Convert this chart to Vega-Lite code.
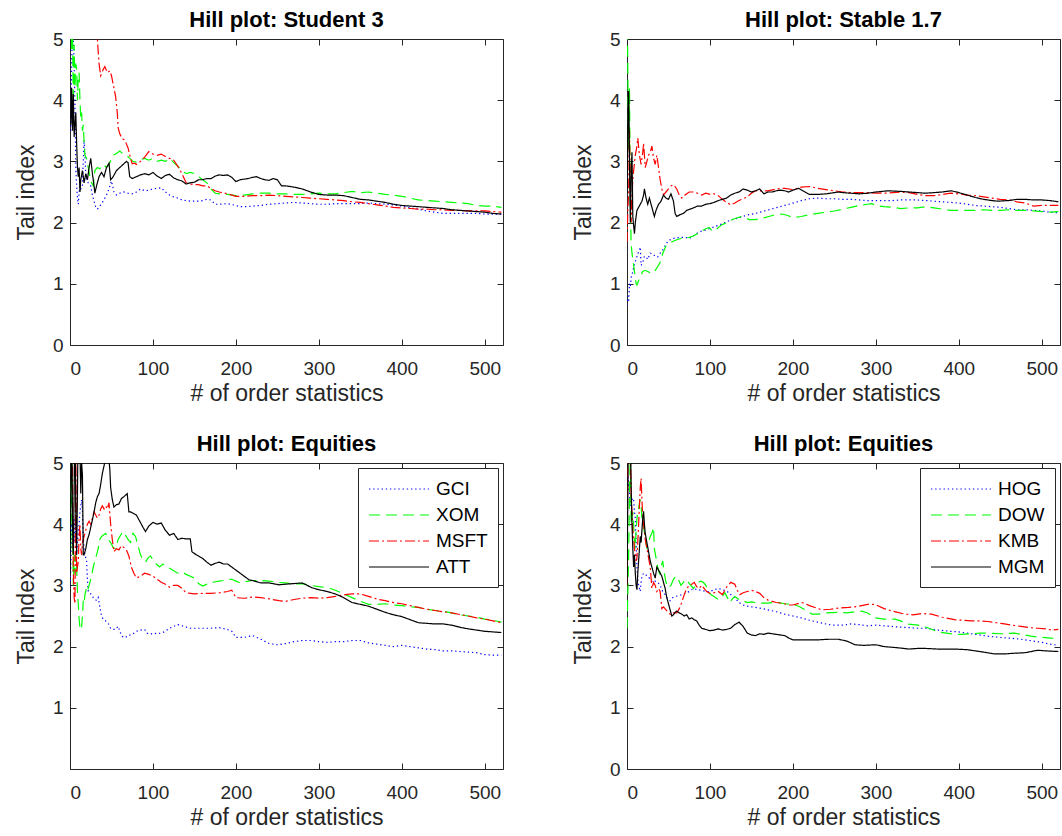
{
"$schema": "https://vega.github.io/schema/vega-lite/v6.json",
"background": "white",
"padding": {"left": 15, "top": 9, "right": 0, "bottom": 0},
"config": {
  "font": "Liberation Sans",
  "view": {"stroke": null},
  "axis": {"domainColor": "#262626", "tickColor": "#262626", "labelColor": "#262626", "titleColor": "#262626", "labelFontSize": 19, "titleFontSize": 23, "titleFontWeight": "normal", "grid": false, "tickSize": -6, "domainWidth": 1, "tickWidth": 1},
  "title": {"fontSize": 22, "fontWeight": "bold", "color": "black", "anchor": "middle", "frame": "group", "offset": -2},
  "legend": {"strokeColor": "#262626", "fillColor": "white", "padding": 10, "labelFontSize": 19, "labelColor": "black", "rowPadding": 5, "symbolStrokeWidth": 1.2, "symbolType": "M-1,0L5,0", "symbolSize": 400, "labelOffset": 46, "orient": "top-right", "offset": 5, "title": null}
},
"datasets": {
"p1": [
{"k":1,"v":3.5,"s":"a"},{"k":2,"v":4.6,"s":"a"},{"k":3,"v":5.3,"s":"a"},{"k":4,"v":5.0,"s":"a"},{"k":5,"v":4.6,"s":"a"},{"k":6,"v":3.9,"s":"a"},{"k":7,"v":2.9,"s":"a"},{"k":8,"v":2.6,"s":"a"},{"k":9,"v":2.4,"s":"a"},{"k":10,"v":2.3,"s":"a"},{"k":11,"v":2.5,"s":"a"},{"k":12,"v":2.6,"s":"a"},{"k":13,"v":2.55,"s":"a"},{"k":15,"v":2.6,"s":"a"},{"k":16,"v":3.0,"s":"a"},{"k":17,"v":3.35,"s":"a"},{"k":18,"v":3.1,"s":"a"},{"k":19,"v":2.8,"s":"a"},{"k":20,"v":2.7,"s":"a"},{"k":22,"v":2.65,"s":"a"},{"k":25,"v":2.6,"s":"a"},{"k":27,"v":2.45,"s":"a"},{"k":29,"v":2.35,"s":"a"},{"k":31,"v":2.25,"s":"a"},{"k":33,"v":2.22,"s":"a"},{"k":36,"v":2.27,"s":"a"},{"k":40,"v":2.35,"s":"a"},{"k":44,"v":2.45,"s":"a"},{"k":47,"v":2.55,"s":"a"},{"k":50,"v":2.68,"s":"a"},{"k":53,"v":2.5,"s":"a"},{"k":56,"v":2.45,"s":"a"},{"k":60,"v":2.48,"s":"a"},{"k":65,"v":2.5,"s":"a"},{"k":70,"v":2.48,"s":"a"},{"k":75,"v":2.47,"s":"a"},{"k":80,"v":2.5,"s":"a"},{"k":85,"v":2.55,"s":"a"},{"k":90,"v":2.52,"s":"a"},{"k":95,"v":2.53,"s":"a"},{"k":100,"v":2.55,"s":"a"},{"k":105,"v":2.56,"s":"a"},{"k":110,"v":2.57,"s":"a"},{"k":115,"v":2.5,"s":"a"},{"k":120,"v":2.45,"s":"a"},{"k":125,"v":2.42,"s":"a"},{"k":130,"v":2.4,"s":"a"},{"k":135,"v":2.37,"s":"a"},{"k":140,"v":2.36,"s":"a"},{"k":145,"v":2.35,"s":"a"},{"k":150,"v":2.35,"s":"a"},{"k":155,"v":2.35,"s":"a"},{"k":160,"v":2.36,"s":"a"},{"k":165,"v":2.38,"s":"a"},{"k":170,"v":2.37,"s":"a"},{"k":175,"v":2.3,"s":"a"},{"k":180,"v":2.3,"s":"a"},{"k":190,"v":2.31,"s":"a"},{"k":200,"v":2.28,"s":"a"},{"k":205,"v":2.26,"s":"a"},{"k":210,"v":2.26,"s":"a"},{"k":220,"v":2.27,"s":"a"},{"k":230,"v":2.28,"s":"a"},{"k":240,"v":2.3,"s":"a"},{"k":250,"v":2.31,"s":"a"},{"k":260,"v":2.32,"s":"a"},{"k":270,"v":2.33,"s":"a"},{"k":280,"v":2.32,"s":"a"},{"k":290,"v":2.31,"s":"a"},{"k":300,"v":2.3,"s":"a"},{"k":310,"v":2.3,"s":"a"},{"k":320,"v":2.31,"s":"a"},{"k":330,"v":2.31,"s":"a"},{"k":340,"v":2.31,"s":"a"},{"k":350,"v":2.31,"s":"a"},{"k":360,"v":2.32,"s":"a"},{"k":370,"v":2.31,"s":"a"},{"k":380,"v":2.3,"s":"a"},{"k":390,"v":2.29,"s":"a"},{"k":400,"v":2.27,"s":"a"},{"k":410,"v":2.24,"s":"a"},{"k":420,"v":2.22,"s":"a"},{"k":430,"v":2.19,"s":"a"},{"k":440,"v":2.17,"s":"a"},{"k":450,"v":2.15,"s":"a"},{"k":460,"v":2.15,"s":"a"},{"k":470,"v":2.15,"s":"a"},{"k":480,"v":2.15,"s":"a"},{"k":490,"v":2.15,"s":"a"},{"k":500,"v":2.14,"s":"a"},{"k":510,"v":2.14,"s":"a"},{"k":520,"v":2.14,"s":"a"},
{"k":1,"v":5.6,"s":"b"},{"k":2,"v":4.8,"s":"b"},{"k":3,"v":5.2,"s":"b"},{"k":4,"v":3.8,"s":"b"},{"k":5,"v":4.9,"s":"b"},{"k":6,"v":4.2,"s":"b"},{"k":7,"v":4.6,"s":"b"},{"k":8,"v":4.5,"s":"b"},{"k":9,"v":4.0,"s":"b"},{"k":10,"v":4.4,"s":"b"},{"k":11,"v":4.45,"s":"b"},{"k":12,"v":4.0,"s":"b"},{"k":13,"v":3.7,"s":"b"},{"k":14,"v":3.8,"s":"b"},{"k":15,"v":3.5,"s":"b"},{"k":16,"v":3.6,"s":"b"},{"k":17,"v":3.3,"s":"b"},{"k":18,"v":3.1,"s":"b"},{"k":20,"v":3.05,"s":"b"},{"k":22,"v":2.9,"s":"b"},{"k":24,"v":2.75,"s":"b"},{"k":26,"v":2.65,"s":"b"},{"k":28,"v":2.6,"s":"b"},{"k":30,"v":2.85,"s":"b"},{"k":33,"v":2.9,"s":"b"},{"k":36,"v":2.88,"s":"b"},{"k":40,"v":2.95,"s":"b"},{"k":44,"v":2.9,"s":"b"},{"k":48,"v":2.98,"s":"b"},{"k":52,"v":3.1,"s":"b"},{"k":56,"v":3.13,"s":"b"},{"k":60,"v":3.17,"s":"b"},{"k":64,"v":3.12,"s":"b"},{"k":68,"v":3.1,"s":"b"},{"k":72,"v":3.05,"s":"b"},{"k":76,"v":3.0,"s":"b"},{"k":80,"v":2.99,"s":"b"},{"k":85,"v":3.03,"s":"b"},{"k":90,"v":3.05,"s":"b"},{"k":95,"v":3.02,"s":"b"},{"k":100,"v":3.05,"s":"b"},{"k":105,"v":3.0,"s":"b"},{"k":110,"v":3.02,"s":"b"},{"k":115,"v":3.0,"s":"b"},{"k":120,"v":3.05,"s":"b"},{"k":125,"v":2.98,"s":"b"},{"k":130,"v":2.92,"s":"b"},{"k":135,"v":2.85,"s":"b"},{"k":140,"v":2.8,"s":"b"},{"k":145,"v":2.82,"s":"b"},{"k":150,"v":2.8,"s":"b"},{"k":155,"v":2.75,"s":"b"},{"k":160,"v":2.7,"s":"b"},{"k":165,"v":2.65,"s":"b"},{"k":170,"v":2.55,"s":"b"},{"k":175,"v":2.48,"s":"b"},{"k":180,"v":2.47,"s":"b"},{"k":190,"v":2.46,"s":"b"},{"k":200,"v":2.44,"s":"b"},{"k":210,"v":2.45,"s":"b"},{"k":220,"v":2.47,"s":"b"},{"k":230,"v":2.48,"s":"b"},{"k":240,"v":2.48,"s":"b"},{"k":250,"v":2.47,"s":"b"},{"k":260,"v":2.47,"s":"b"},{"k":270,"v":2.46,"s":"b"},{"k":280,"v":2.46,"s":"b"},{"k":290,"v":2.47,"s":"b"},{"k":300,"v":2.48,"s":"b"},{"k":310,"v":2.47,"s":"b"},{"k":320,"v":2.47,"s":"b"},{"k":330,"v":2.49,"s":"b"},{"k":340,"v":2.51,"s":"b"},{"k":350,"v":2.49,"s":"b"},{"k":360,"v":2.5,"s":"b"},{"k":370,"v":2.48,"s":"b"},{"k":380,"v":2.46,"s":"b"},{"k":390,"v":2.45,"s":"b"},{"k":400,"v":2.43,"s":"b"},{"k":410,"v":2.4,"s":"b"},{"k":420,"v":2.37,"s":"b"},{"k":430,"v":2.36,"s":"b"},{"k":440,"v":2.35,"s":"b"},{"k":450,"v":2.34,"s":"b"},{"k":460,"v":2.33,"s":"b"},{"k":470,"v":2.32,"s":"b"},{"k":480,"v":2.31,"s":"b"},{"k":490,"v":2.28,"s":"b"},{"k":500,"v":2.27,"s":"b"},{"k":510,"v":2.27,"s":"b"},{"k":520,"v":2.25,"s":"b"},
{"k":1,"v":9,"s":"c"},{"k":5,"v":8,"s":"c"},{"k":10,"v":7.5,"s":"c"},{"k":20,"v":6.5,"s":"c"},{"k":30,"v":5.6,"s":"c"},{"k":33,"v":5.0,"s":"c"},{"k":35,"v":4.6,"s":"c"},{"k":37,"v":4.4,"s":"c"},{"k":40,"v":4.5,"s":"c"},{"k":42,"v":4.55,"s":"c"},{"k":45,"v":4.45,"s":"c"},{"k":48,"v":4.48,"s":"c"},{"k":50,"v":4.4,"s":"c"},{"k":53,"v":4.2,"s":"c"},{"k":55,"v":4.06,"s":"c"},{"k":57,"v":3.8,"s":"c"},{"k":58,"v":3.55,"s":"c"},{"k":60,"v":3.45,"s":"c"},{"k":63,"v":3.37,"s":"c"},{"k":66,"v":3.35,"s":"c"},{"k":70,"v":3.22,"s":"c"},{"k":73,"v":3.05,"s":"c"},{"k":75,"v":2.96,"s":"c"},{"k":78,"v":2.97,"s":"c"},{"k":80,"v":2.95,"s":"c"},{"k":85,"v":3.0,"s":"c"},{"k":90,"v":3.07,"s":"c"},{"k":95,"v":3.16,"s":"c"},{"k":100,"v":3.12,"s":"c"},{"k":105,"v":3.1,"s":"c"},{"k":110,"v":3.12,"s":"c"},{"k":115,"v":3.08,"s":"c"},{"k":120,"v":3.05,"s":"c"},{"k":125,"v":3.02,"s":"c"},{"k":130,"v":2.92,"s":"c"},{"k":135,"v":2.8,"s":"c"},{"k":140,"v":2.65,"s":"c"},{"k":145,"v":2.63,"s":"c"},{"k":150,"v":2.62,"s":"c"},{"k":155,"v":2.62,"s":"c"},{"k":160,"v":2.6,"s":"c"},{"k":165,"v":2.6,"s":"c"},{"k":170,"v":2.56,"s":"c"},{"k":175,"v":2.52,"s":"c"},{"k":180,"v":2.5,"s":"c"},{"k":190,"v":2.47,"s":"c"},{"k":200,"v":2.43,"s":"c"},{"k":210,"v":2.43,"s":"c"},{"k":220,"v":2.44,"s":"c"},{"k":230,"v":2.44,"s":"c"},{"k":240,"v":2.45,"s":"c"},{"k":250,"v":2.44,"s":"c"},{"k":260,"v":2.43,"s":"c"},{"k":270,"v":2.42,"s":"c"},{"k":280,"v":2.41,"s":"c"},{"k":290,"v":2.4,"s":"c"},{"k":300,"v":2.39,"s":"c"},{"k":310,"v":2.38,"s":"c"},{"k":320,"v":2.37,"s":"c"},{"k":330,"v":2.36,"s":"c"},{"k":340,"v":2.34,"s":"c"},{"k":350,"v":2.33,"s":"c"},{"k":360,"v":2.31,"s":"c"},{"k":370,"v":2.29,"s":"c"},{"k":380,"v":2.27,"s":"c"},{"k":390,"v":2.25,"s":"c"},{"k":400,"v":2.24,"s":"c"},{"k":410,"v":2.23,"s":"c"},{"k":420,"v":2.22,"s":"c"},{"k":430,"v":2.22,"s":"c"},{"k":440,"v":2.21,"s":"c"},{"k":450,"v":2.21,"s":"c"},{"k":460,"v":2.2,"s":"c"},{"k":470,"v":2.2,"s":"c"},{"k":480,"v":2.19,"s":"c"},{"k":490,"v":2.19,"s":"c"},{"k":500,"v":2.19,"s":"c"},{"k":510,"v":2.18,"s":"c"},{"k":520,"v":2.17,"s":"c"},
{"k":1,"v":3.6,"s":"d"},{"k":2,"v":4.2,"s":"d"},{"k":3,"v":3.5,"s":"d"},{"k":4,"v":4.1,"s":"d"},{"k":5,"v":3.4,"s":"d"},{"k":6,"v":3.6,"s":"d"},{"k":7,"v":3.8,"s":"d"},{"k":8,"v":3.3,"s":"d"},{"k":9,"v":2.9,"s":"d"},{"k":10,"v":2.75,"s":"d"},{"k":11,"v":2.9,"s":"d"},{"k":12,"v":2.5,"s":"d"},{"k":13,"v":2.7,"s":"d"},{"k":15,"v":2.85,"s":"d"},{"k":17,"v":2.65,"s":"d"},{"k":19,"v":2.8,"s":"d"},{"k":21,"v":2.7,"s":"d"},{"k":23,"v":2.9,"s":"d"},{"k":25,"v":3.05,"s":"d"},{"k":27,"v":2.8,"s":"d"},{"k":29,"v":2.6,"s":"d"},{"k":30,"v":2.48,"s":"d"},{"k":32,"v":2.6,"s":"d"},{"k":35,"v":2.75,"s":"d"},{"k":38,"v":2.82,"s":"d"},{"k":41,"v":2.75,"s":"d"},{"k":44,"v":2.9,"s":"d"},{"k":47,"v":2.97,"s":"d"},{"k":49,"v":2.7,"s":"d"},{"k":52,"v":2.75,"s":"d"},{"k":56,"v":2.85,"s":"d"},{"k":60,"v":2.9,"s":"d"},{"k":64,"v":2.95,"s":"d"},{"k":68,"v":3.0,"s":"d"},{"k":70,"v":2.98,"s":"d"},{"k":72,"v":2.75,"s":"d"},{"k":75,"v":2.72,"s":"d"},{"k":80,"v":2.75,"s":"d"},{"k":85,"v":2.78,"s":"d"},{"k":90,"v":2.8,"s":"d"},{"k":95,"v":2.78,"s":"d"},{"k":100,"v":2.82,"s":"d"},{"k":105,"v":2.76,"s":"d"},{"k":110,"v":2.72,"s":"d"},{"k":115,"v":2.77,"s":"d"},{"k":120,"v":2.79,"s":"d"},{"k":125,"v":2.73,"s":"d"},{"k":130,"v":2.7,"s":"d"},{"k":135,"v":2.68,"s":"d"},{"k":140,"v":2.63,"s":"d"},{"k":145,"v":2.65,"s":"d"},{"k":150,"v":2.66,"s":"d"},{"k":155,"v":2.7,"s":"d"},{"k":160,"v":2.7,"s":"d"},{"k":165,"v":2.72,"s":"d"},{"k":170,"v":2.72,"s":"d"},{"k":175,"v":2.76,"s":"d"},{"k":180,"v":2.78,"s":"d"},{"k":185,"v":2.77,"s":"d"},{"k":190,"v":2.78,"s":"d"},{"k":195,"v":2.74,"s":"d"},{"k":200,"v":2.67,"s":"d"},{"k":205,"v":2.7,"s":"d"},{"k":210,"v":2.71,"s":"d"},{"k":215,"v":2.72,"s":"d"},{"k":220,"v":2.74,"s":"d"},{"k":225,"v":2.75,"s":"d"},{"k":230,"v":2.72,"s":"d"},{"k":235,"v":2.7,"s":"d"},{"k":240,"v":2.69,"s":"d"},{"k":245,"v":2.72,"s":"d"},{"k":250,"v":2.7,"s":"d"},{"k":255,"v":2.6,"s":"d"},{"k":260,"v":2.6,"s":"d"},{"k":270,"v":2.58,"s":"d"},{"k":280,"v":2.55,"s":"d"},{"k":290,"v":2.5,"s":"d"},{"k":300,"v":2.46,"s":"d"},{"k":310,"v":2.45,"s":"d"},{"k":320,"v":2.45,"s":"d"},{"k":330,"v":2.44,"s":"d"},{"k":340,"v":2.41,"s":"d"},{"k":350,"v":2.38,"s":"d"},{"k":360,"v":2.37,"s":"d"},{"k":370,"v":2.35,"s":"d"},{"k":380,"v":2.33,"s":"d"},{"k":390,"v":2.3,"s":"d"},{"k":400,"v":2.28,"s":"d"},{"k":410,"v":2.27,"s":"d"},{"k":420,"v":2.26,"s":"d"},{"k":430,"v":2.25,"s":"d"},{"k":440,"v":2.24,"s":"d"},{"k":450,"v":2.23,"s":"d"},{"k":460,"v":2.21,"s":"d"},{"k":470,"v":2.2,"s":"d"},{"k":480,"v":2.19,"s":"d"},{"k":490,"v":2.18,"s":"d"},{"k":500,"v":2.17,"s":"d"},{"k":510,"v":2.15,"s":"d"},{"k":520,"v":2.14,"s":"d"}
],
"p2": [
{"k":0,"v":0.65,"s":"a"},{"k":1,"v":0.8,"s":"a"},{"k":2,"v":0.7,"s":"a"},{"k":3,"v":1.0,"s":"a"},{"k":4,"v":0.95,"s":"a"},{"k":5,"v":1.1,"s":"a"},{"k":7,"v":1.2,"s":"a"},{"k":9,"v":1.33,"s":"a"},{"k":11,"v":1.4,"s":"a"},{"k":13,"v":1.49,"s":"a"},{"k":15,"v":1.55,"s":"a"},{"k":16,"v":1.6,"s":"a"},{"k":17,"v":1.3,"s":"a"},{"k":19,"v":1.35,"s":"a"},{"k":21,"v":1.45,"s":"a"},{"k":23,"v":1.44,"s":"a"},{"k":25,"v":1.4,"s":"a"},{"k":28,"v":1.5,"s":"a"},{"k":31,"v":1.49,"s":"a"},{"k":34,"v":1.45,"s":"a"},{"k":37,"v":1.44,"s":"a"},{"k":40,"v":1.5,"s":"a"},{"k":43,"v":1.55,"s":"a"},{"k":46,"v":1.62,"s":"a"},{"k":49,"v":1.69,"s":"a"},{"k":52,"v":1.72,"s":"a"},{"k":55,"v":1.74,"s":"a"},{"k":60,"v":1.75,"s":"a"},{"k":65,"v":1.76,"s":"a"},{"k":70,"v":1.76,"s":"a"},{"k":75,"v":1.74,"s":"a"},{"k":80,"v":1.78,"s":"a"},{"k":87,"v":1.85,"s":"a"},{"k":93,"v":1.87,"s":"a"},{"k":99,"v":1.9,"s":"a"},{"k":107,"v":1.94,"s":"a"},{"k":115,"v":1.98,"s":"a"},{"k":121,"v":2.02,"s":"a"},{"k":127,"v":2.05,"s":"a"},{"k":133,"v":2.07,"s":"a"},{"k":139,"v":2.1,"s":"a"},{"k":147,"v":2.13,"s":"a"},{"k":155,"v":2.15,"s":"a"},{"k":163,"v":2.18,"s":"a"},{"k":171,"v":2.21,"s":"a"},{"k":179,"v":2.24,"s":"a"},{"k":187,"v":2.27,"s":"a"},{"k":195,"v":2.3,"s":"a"},{"k":203,"v":2.33,"s":"a"},{"k":210,"v":2.36,"s":"a"},{"k":220,"v":2.39,"s":"a"},{"k":230,"v":2.4,"s":"a"},{"k":240,"v":2.39,"s":"a"},{"k":250,"v":2.39,"s":"a"},{"k":260,"v":2.38,"s":"a"},{"k":270,"v":2.38,"s":"a"},{"k":280,"v":2.37,"s":"a"},{"k":290,"v":2.36,"s":"a"},{"k":300,"v":2.36,"s":"a"},{"k":310,"v":2.36,"s":"a"},{"k":320,"v":2.36,"s":"a"},{"k":330,"v":2.37,"s":"a"},{"k":340,"v":2.37,"s":"a"},{"k":350,"v":2.37,"s":"a"},{"k":360,"v":2.36,"s":"a"},{"k":370,"v":2.35,"s":"a"},{"k":380,"v":2.34,"s":"a"},{"k":390,"v":2.33,"s":"a"},{"k":400,"v":2.32,"s":"a"},{"k":410,"v":2.3,"s":"a"},{"k":420,"v":2.28,"s":"a"},{"k":430,"v":2.27,"s":"a"},{"k":440,"v":2.26,"s":"a"},{"k":450,"v":2.25,"s":"a"},{"k":460,"v":2.23,"s":"a"},{"k":470,"v":2.21,"s":"a"},{"k":480,"v":2.21,"s":"a"},{"k":490,"v":2.2,"s":"a"},{"k":500,"v":2.19,"s":"a"},{"k":510,"v":2.17,"s":"a"},{"k":520,"v":2.16,"s":"a"},
{"k":0,"v":6,"s":"b"},{"k":1,"v":4.4,"s":"b"},{"k":2,"v":3.2,"s":"b"},{"k":3,"v":4.2,"s":"b"},{"k":4,"v":2.3,"s":"b"},{"k":5,"v":1.66,"s":"b"},{"k":6,"v":1.5,"s":"b"},{"k":8,"v":1.3,"s":"b"},{"k":10,"v":1.1,"s":"b"},{"k":11,"v":1.0,"s":"b"},{"k":12,"v":0.98,"s":"b"},{"k":14,"v":1.05,"s":"b"},{"k":16,"v":1.12,"s":"b"},{"k":19,"v":1.2,"s":"b"},{"k":22,"v":1.22,"s":"b"},{"k":25,"v":1.2,"s":"b"},{"k":28,"v":1.18,"s":"b"},{"k":31,"v":1.17,"s":"b"},{"k":34,"v":1.22,"s":"b"},{"k":37,"v":1.28,"s":"b"},{"k":40,"v":1.35,"s":"b"},{"k":43,"v":1.49,"s":"b"},{"k":47,"v":1.62,"s":"b"},{"k":51,"v":1.66,"s":"b"},{"k":55,"v":1.69,"s":"b"},{"k":60,"v":1.72,"s":"b"},{"k":65,"v":1.74,"s":"b"},{"k":70,"v":1.75,"s":"b"},{"k":75,"v":1.76,"s":"b"},{"k":80,"v":1.78,"s":"b"},{"k":85,"v":1.82,"s":"b"},{"k":90,"v":1.86,"s":"b"},{"k":95,"v":1.9,"s":"b"},{"k":99,"v":1.92,"s":"b"},{"k":103,"v":1.86,"s":"b"},{"k":107,"v":1.88,"s":"b"},{"k":111,"v":1.93,"s":"b"},{"k":115,"v":1.97,"s":"b"},{"k":121,"v":2.0,"s":"b"},{"k":127,"v":2.05,"s":"b"},{"k":133,"v":2.08,"s":"b"},{"k":139,"v":2.1,"s":"b"},{"k":143,"v":2.08,"s":"b"},{"k":147,"v":2.05,"s":"b"},{"k":155,"v":2.05,"s":"b"},{"k":163,"v":2.07,"s":"b"},{"k":171,"v":2.1,"s":"b"},{"k":179,"v":2.13,"s":"b"},{"k":186,"v":2.14,"s":"b"},{"k":193,"v":2.12,"s":"b"},{"k":200,"v":2.08,"s":"b"},{"k":210,"v":2.1,"s":"b"},{"k":220,"v":2.13,"s":"b"},{"k":230,"v":2.15,"s":"b"},{"k":240,"v":2.17,"s":"b"},{"k":250,"v":2.19,"s":"b"},{"k":260,"v":2.22,"s":"b"},{"k":270,"v":2.25,"s":"b"},{"k":280,"v":2.28,"s":"b"},{"k":290,"v":2.3,"s":"b"},{"k":295,"v":2.31,"s":"b"},{"k":300,"v":2.28,"s":"b"},{"k":310,"v":2.26,"s":"b"},{"k":320,"v":2.25,"s":"b"},{"k":330,"v":2.23,"s":"b"},{"k":340,"v":2.24,"s":"b"},{"k":350,"v":2.24,"s":"b"},{"k":360,"v":2.26,"s":"b"},{"k":370,"v":2.24,"s":"b"},{"k":380,"v":2.22,"s":"b"},{"k":390,"v":2.2,"s":"b"},{"k":400,"v":2.2,"s":"b"},{"k":410,"v":2.2,"s":"b"},{"k":420,"v":2.2,"s":"b"},{"k":430,"v":2.21,"s":"b"},{"k":440,"v":2.2,"s":"b"},{"k":450,"v":2.2,"s":"b"},{"k":460,"v":2.21,"s":"b"},{"k":470,"v":2.2,"s":"b"},{"k":480,"v":2.2,"s":"b"},{"k":490,"v":2.19,"s":"b"},{"k":500,"v":2.18,"s":"b"},{"k":510,"v":2.17,"s":"b"},{"k":520,"v":2.18,"s":"b"},
{"k":0,"v":1.68,"s":"c"},{"k":1,"v":2.2,"s":"c"},{"k":2,"v":2.5,"s":"c"},{"k":3,"v":3.5,"s":"c"},{"k":4,"v":2.6,"s":"c"},{"k":5,"v":2.0,"s":"c"},{"k":6,"v":2.4,"s":"c"},{"k":7,"v":2.7,"s":"c"},{"k":8,"v":2.85,"s":"c"},{"k":10,"v":3.1,"s":"c"},{"k":12,"v":3.25,"s":"c"},{"k":13,"v":3.38,"s":"c"},{"k":15,"v":3.1,"s":"c"},{"k":17,"v":2.95,"s":"c"},{"k":19,"v":3.15,"s":"c"},{"k":20,"v":3.3,"s":"c"},{"k":22,"v":2.9,"s":"c"},{"k":24,"v":3.0,"s":"c"},{"k":26,"v":3.1,"s":"c"},{"k":28,"v":3.15,"s":"c"},{"k":30,"v":3.25,"s":"c"},{"k":32,"v":3.05,"s":"c"},{"k":34,"v":2.95,"s":"c"},{"k":36,"v":3.1,"s":"c"},{"k":38,"v":2.9,"s":"c"},{"k":40,"v":2.7,"s":"c"},{"k":42,"v":2.55,"s":"c"},{"k":44,"v":2.45,"s":"c"},{"k":47,"v":2.5,"s":"c"},{"k":50,"v":2.55,"s":"c"},{"k":53,"v":2.6,"s":"c"},{"k":56,"v":2.62,"s":"c"},{"k":60,"v":2.55,"s":"c"},{"k":63,"v":2.45,"s":"c"},{"k":66,"v":2.4,"s":"c"},{"k":70,"v":2.45,"s":"c"},{"k":75,"v":2.5,"s":"c"},{"k":80,"v":2.5,"s":"c"},{"k":85,"v":2.48,"s":"c"},{"k":90,"v":2.45,"s":"c"},{"k":95,"v":2.48,"s":"c"},{"k":100,"v":2.46,"s":"c"},{"k":105,"v":2.47,"s":"c"},{"k":110,"v":2.44,"s":"c"},{"k":115,"v":2.38,"s":"c"},{"k":120,"v":2.33,"s":"c"},{"k":125,"v":2.29,"s":"c"},{"k":130,"v":2.32,"s":"c"},{"k":135,"v":2.36,"s":"c"},{"k":140,"v":2.39,"s":"c"},{"k":145,"v":2.42,"s":"c"},{"k":150,"v":2.48,"s":"c"},{"k":155,"v":2.52,"s":"c"},{"k":160,"v":2.52,"s":"c"},{"k":170,"v":2.52,"s":"c"},{"k":180,"v":2.55,"s":"c"},{"k":190,"v":2.56,"s":"c"},{"k":200,"v":2.54,"s":"c"},{"k":210,"v":2.58,"s":"c"},{"k":220,"v":2.59,"s":"c"},{"k":230,"v":2.56,"s":"c"},{"k":240,"v":2.54,"s":"c"},{"k":250,"v":2.52,"s":"c"},{"k":260,"v":2.5,"s":"c"},{"k":270,"v":2.49,"s":"c"},{"k":280,"v":2.49,"s":"c"},{"k":290,"v":2.49,"s":"c"},{"k":300,"v":2.48,"s":"c"},{"k":310,"v":2.48,"s":"c"},{"k":320,"v":2.49,"s":"c"},{"k":330,"v":2.5,"s":"c"},{"k":340,"v":2.49,"s":"c"},{"k":350,"v":2.46,"s":"c"},{"k":360,"v":2.44,"s":"c"},{"k":370,"v":2.44,"s":"c"},{"k":380,"v":2.46,"s":"c"},{"k":390,"v":2.48,"s":"c"},{"k":400,"v":2.47,"s":"c"},{"k":410,"v":2.45,"s":"c"},{"k":420,"v":2.44,"s":"c"},{"k":430,"v":2.42,"s":"c"},{"k":440,"v":2.4,"s":"c"},{"k":450,"v":2.38,"s":"c"},{"k":460,"v":2.37,"s":"c"},{"k":470,"v":2.34,"s":"c"},{"k":480,"v":2.32,"s":"c"},{"k":490,"v":2.27,"s":"c"},{"k":500,"v":2.28,"s":"c"},{"k":510,"v":2.28,"s":"c"},{"k":520,"v":2.28,"s":"c"},
{"k":0,"v":2.5,"s":"d"},{"k":1,"v":3.5,"s":"d"},{"k":2,"v":4.15,"s":"d"},{"k":3,"v":3.0,"s":"d"},{"k":4,"v":2.0,"s":"d"},{"k":5,"v":2.8,"s":"d"},{"k":6,"v":3.15,"s":"d"},{"k":7,"v":2.1,"s":"d"},{"k":8,"v":1.95,"s":"d"},{"k":9,"v":1.82,"s":"d"},{"k":10,"v":2.0,"s":"d"},{"k":12,"v":2.2,"s":"d"},{"k":14,"v":2.25,"s":"d"},{"k":16,"v":2.3,"s":"d"},{"k":18,"v":2.35,"s":"d"},{"k":20,"v":2.45,"s":"d"},{"k":21,"v":2.55,"s":"d"},{"k":23,"v":2.4,"s":"d"},{"k":25,"v":2.3,"s":"d"},{"k":27,"v":2.4,"s":"d"},{"k":29,"v":2.3,"s":"d"},{"k":31,"v":2.2,"s":"d"},{"k":33,"v":2.1,"s":"d"},{"k":35,"v":2.2,"s":"d"},{"k":38,"v":2.3,"s":"d"},{"k":41,"v":2.35,"s":"d"},{"k":44,"v":2.45,"s":"d"},{"k":47,"v":2.4,"s":"d"},{"k":50,"v":2.38,"s":"d"},{"k":53,"v":2.47,"s":"d"},{"k":56,"v":2.35,"s":"d"},{"k":58,"v":2.15,"s":"d"},{"k":60,"v":2.1,"s":"d"},{"k":64,"v":2.13,"s":"d"},{"k":68,"v":2.15,"s":"d"},{"k":72,"v":2.2,"s":"d"},{"k":76,"v":2.22,"s":"d"},{"k":80,"v":2.24,"s":"d"},{"k":85,"v":2.27,"s":"d"},{"k":90,"v":2.27,"s":"d"},{"k":95,"v":2.3,"s":"d"},{"k":100,"v":2.31,"s":"d"},{"k":105,"v":2.33,"s":"d"},{"k":110,"v":2.36,"s":"d"},{"k":115,"v":2.38,"s":"d"},{"k":120,"v":2.4,"s":"d"},{"k":125,"v":2.45,"s":"d"},{"k":130,"v":2.48,"s":"d"},{"k":135,"v":2.5,"s":"d"},{"k":140,"v":2.55,"s":"d"},{"k":145,"v":2.53,"s":"d"},{"k":150,"v":2.5,"s":"d"},{"k":155,"v":2.52,"s":"d"},{"k":160,"v":2.55,"s":"d"},{"k":165,"v":2.47,"s":"d"},{"k":170,"v":2.5,"s":"d"},{"k":175,"v":2.5,"s":"d"},{"k":180,"v":2.52,"s":"d"},{"k":185,"v":2.53,"s":"d"},{"k":190,"v":2.52,"s":"d"},{"k":195,"v":2.5,"s":"d"},{"k":200,"v":2.53,"s":"d"},{"k":207,"v":2.56,"s":"d"},{"k":212,"v":2.52,"s":"d"},{"k":220,"v":2.46,"s":"d"},{"k":230,"v":2.46,"s":"d"},{"k":240,"v":2.47,"s":"d"},{"k":255,"v":2.5,"s":"d"},{"k":260,"v":2.49,"s":"d"},{"k":270,"v":2.48,"s":"d"},{"k":280,"v":2.47,"s":"d"},{"k":290,"v":2.48,"s":"d"},{"k":300,"v":2.5,"s":"d"},{"k":315,"v":2.52,"s":"d"},{"k":330,"v":2.51,"s":"d"},{"k":340,"v":2.5,"s":"d"},{"k":350,"v":2.49,"s":"d"},{"k":360,"v":2.48,"s":"d"},{"k":370,"v":2.49,"s":"d"},{"k":380,"v":2.5,"s":"d"},{"k":391,"v":2.52,"s":"d"},{"k":400,"v":2.49,"s":"d"},{"k":410,"v":2.45,"s":"d"},{"k":420,"v":2.41,"s":"d"},{"k":430,"v":2.38,"s":"d"},{"k":440,"v":2.36,"s":"d"},{"k":447,"v":2.35,"s":"d"},{"k":460,"v":2.36,"s":"d"},{"k":470,"v":2.38,"s":"d"},{"k":480,"v":2.38,"s":"d"},{"k":490,"v":2.37,"s":"d"},{"k":500,"v":2.37,"s":"d"},{"k":510,"v":2.36,"s":"d"},{"k":520,"v":2.34,"s":"d"}
],
"p3": [
{"k":0,"v":3.0,"s":"GCI"},{"k":1,"v":3.3,"s":"GCI"},{"k":2,"v":4.0,"s":"GCI"},{"k":3,"v":3.6,"s":"GCI"},{"k":4,"v":3.8,"s":"GCI"},{"k":5,"v":4.1,"s":"GCI"},{"k":6,"v":3.7,"s":"GCI"},{"k":7,"v":4.0,"s":"GCI"},{"k":8,"v":3.5,"s":"GCI"},{"k":9,"v":3.7,"s":"GCI"},{"k":10,"v":3.9,"s":"GCI"},{"k":11,"v":4.0,"s":"GCI"},{"k":12,"v":4.2,"s":"GCI"},{"k":13,"v":4.3,"s":"GCI"},{"k":14,"v":4.4,"s":"GCI"},{"k":15,"v":4.2,"s":"GCI"},{"k":16,"v":3.8,"s":"GCI"},{"k":17,"v":3.6,"s":"GCI"},{"k":18,"v":3.5,"s":"GCI"},{"k":20,"v":3.4,"s":"GCI"},{"k":21,"v":3.1,"s":"GCI"},{"k":22,"v":2.9,"s":"GCI"},{"k":24,"v":2.87,"s":"GCI"},{"k":26,"v":2.85,"s":"GCI"},{"k":28,"v":2.8,"s":"GCI"},{"k":30,"v":2.78,"s":"GCI"},{"k":32,"v":2.75,"s":"GCI"},{"k":34,"v":2.8,"s":"GCI"},{"k":36,"v":2.65,"s":"GCI"},{"k":38,"v":2.5,"s":"GCI"},{"k":40,"v":2.45,"s":"GCI"},{"k":43,"v":2.42,"s":"GCI"},{"k":46,"v":2.38,"s":"GCI"},{"k":49,"v":2.3,"s":"GCI"},{"k":52,"v":2.28,"s":"GCI"},{"k":55,"v":2.28,"s":"GCI"},{"k":58,"v":2.33,"s":"GCI"},{"k":61,"v":2.22,"s":"GCI"},{"k":64,"v":2.15,"s":"GCI"},{"k":67,"v":2.15,"s":"GCI"},{"k":70,"v":2.18,"s":"GCI"},{"k":75,"v":2.2,"s":"GCI"},{"k":80,"v":2.25,"s":"GCI"},{"k":85,"v":2.27,"s":"GCI"},{"k":90,"v":2.28,"s":"GCI"},{"k":93,"v":2.22,"s":"GCI"},{"k":97,"v":2.2,"s":"GCI"},{"k":100,"v":2.22,"s":"GCI"},{"k":105,"v":2.21,"s":"GCI"},{"k":110,"v":2.22,"s":"GCI"},{"k":115,"v":2.25,"s":"GCI"},{"k":120,"v":2.3,"s":"GCI"},{"k":125,"v":2.33,"s":"GCI"},{"k":130,"v":2.36,"s":"GCI"},{"k":135,"v":2.34,"s":"GCI"},{"k":140,"v":2.32,"s":"GCI"},{"k":145,"v":2.3,"s":"GCI"},{"k":150,"v":2.3,"s":"GCI"},{"k":160,"v":2.3,"s":"GCI"},{"k":170,"v":2.3,"s":"GCI"},{"k":180,"v":2.31,"s":"GCI"},{"k":190,"v":2.28,"s":"GCI"},{"k":195,"v":2.25,"s":"GCI"},{"k":200,"v":2.15,"s":"GCI"},{"k":210,"v":2.15,"s":"GCI"},{"k":220,"v":2.18,"s":"GCI"},{"k":225,"v":2.15,"s":"GCI"},{"k":230,"v":2.12,"s":"GCI"},{"k":240,"v":2.05,"s":"GCI"},{"k":250,"v":2.03,"s":"GCI"},{"k":260,"v":2.05,"s":"GCI"},{"k":270,"v":2.08,"s":"GCI"},{"k":280,"v":2.1,"s":"GCI"},{"k":290,"v":2.1,"s":"GCI"},{"k":300,"v":2.08,"s":"GCI"},{"k":310,"v":2.07,"s":"GCI"},{"k":320,"v":2.08,"s":"GCI"},{"k":330,"v":2.08,"s":"GCI"},{"k":340,"v":2.1,"s":"GCI"},{"k":350,"v":2.1,"s":"GCI"},{"k":360,"v":2.06,"s":"GCI"},{"k":370,"v":2.04,"s":"GCI"},{"k":380,"v":2.02,"s":"GCI"},{"k":390,"v":2.0,"s":"GCI"},{"k":400,"v":2.02,"s":"GCI"},{"k":410,"v":2.0,"s":"GCI"},{"k":420,"v":1.98,"s":"GCI"},{"k":430,"v":1.96,"s":"GCI"},{"k":440,"v":1.95,"s":"GCI"},{"k":450,"v":1.93,"s":"GCI"},{"k":460,"v":1.93,"s":"GCI"},{"k":470,"v":1.92,"s":"GCI"},{"k":480,"v":1.91,"s":"GCI"},{"k":490,"v":1.9,"s":"GCI"},{"k":500,"v":1.87,"s":"GCI"},{"k":510,"v":1.86,"s":"GCI"},{"k":520,"v":1.86,"s":"GCI"},
{"k":0,"v":4.6,"s":"XOM"},{"k":1,"v":3.6,"s":"XOM"},{"k":2,"v":5.5,"s":"XOM"},{"k":3,"v":4.0,"s":"XOM"},{"k":4,"v":3.0,"s":"XOM"},{"k":5,"v":3.5,"s":"XOM"},{"k":6,"v":3.2,"s":"XOM"},{"k":7,"v":3.5,"s":"XOM"},{"k":8,"v":3.3,"s":"XOM"},{"k":9,"v":2.9,"s":"XOM"},{"k":10,"v":2.7,"s":"XOM"},{"k":11,"v":2.45,"s":"XOM"},{"k":12,"v":2.3,"s":"XOM"},{"k":13,"v":2.35,"s":"XOM"},{"k":14,"v":2.32,"s":"XOM"},{"k":15,"v":2.5,"s":"XOM"},{"k":16,"v":2.75,"s":"XOM"},{"k":17,"v":2.7,"s":"XOM"},{"k":18,"v":2.85,"s":"XOM"},{"k":19,"v":2.9,"s":"XOM"},{"k":20,"v":3.0,"s":"XOM"},{"k":22,"v":2.95,"s":"XOM"},{"k":24,"v":3.05,"s":"XOM"},{"k":26,"v":3.15,"s":"XOM"},{"k":28,"v":3.3,"s":"XOM"},{"k":30,"v":3.4,"s":"XOM"},{"k":32,"v":3.5,"s":"XOM"},{"k":34,"v":3.6,"s":"XOM"},{"k":36,"v":3.75,"s":"XOM"},{"k":38,"v":3.8,"s":"XOM"},{"k":40,"v":3.82,"s":"XOM"},{"k":43,"v":3.85,"s":"XOM"},{"k":46,"v":3.75,"s":"XOM"},{"k":49,"v":3.7,"s":"XOM"},{"k":52,"v":3.62,"s":"XOM"},{"k":55,"v":3.6,"s":"XOM"},{"k":58,"v":3.75,"s":"XOM"},{"k":61,"v":3.82,"s":"XOM"},{"k":64,"v":3.88,"s":"XOM"},{"k":67,"v":3.82,"s":"XOM"},{"k":70,"v":3.75,"s":"XOM"},{"k":73,"v":3.7,"s":"XOM"},{"k":76,"v":3.85,"s":"XOM"},{"k":79,"v":3.8,"s":"XOM"},{"k":82,"v":3.65,"s":"XOM"},{"k":85,"v":3.5,"s":"XOM"},{"k":88,"v":3.42,"s":"XOM"},{"k":91,"v":3.38,"s":"XOM"},{"k":94,"v":3.45,"s":"XOM"},{"k":97,"v":3.48,"s":"XOM"},{"k":100,"v":3.42,"s":"XOM"},{"k":104,"v":3.35,"s":"XOM"},{"k":108,"v":3.3,"s":"XOM"},{"k":112,"v":3.35,"s":"XOM"},{"k":116,"v":3.3,"s":"XOM"},{"k":120,"v":3.28,"s":"XOM"},{"k":125,"v":3.24,"s":"XOM"},{"k":130,"v":3.2,"s":"XOM"},{"k":135,"v":3.22,"s":"XOM"},{"k":140,"v":3.18,"s":"XOM"},{"k":145,"v":3.15,"s":"XOM"},{"k":150,"v":3.12,"s":"XOM"},{"k":155,"v":3.03,"s":"XOM"},{"k":160,"v":2.99,"s":"XOM"},{"k":165,"v":3.02,"s":"XOM"},{"k":170,"v":3.04,"s":"XOM"},{"k":175,"v":3.06,"s":"XOM"},{"k":180,"v":3.07,"s":"XOM"},{"k":185,"v":3.08,"s":"XOM"},{"k":190,"v":3.1,"s":"XOM"},{"k":195,"v":3.1,"s":"XOM"},{"k":200,"v":3.07,"s":"XOM"},{"k":205,"v":3.04,"s":"XOM"},{"k":210,"v":3.06,"s":"XOM"},{"k":220,"v":3.08,"s":"XOM"},{"k":230,"v":3.08,"s":"XOM"},{"k":240,"v":3.07,"s":"XOM"},{"k":250,"v":3.05,"s":"XOM"},{"k":260,"v":3.04,"s":"XOM"},{"k":270,"v":3.02,"s":"XOM"},{"k":280,"v":3.03,"s":"XOM"},{"k":290,"v":3.0,"s":"XOM"},{"k":300,"v":2.98,"s":"XOM"},{"k":312,"v":2.96,"s":"XOM"},{"k":320,"v":2.92,"s":"XOM"},{"k":330,"v":2.86,"s":"XOM"},{"k":340,"v":2.8,"s":"XOM"},{"k":350,"v":2.74,"s":"XOM"},{"k":360,"v":2.69,"s":"XOM"},{"k":370,"v":2.69,"s":"XOM"},{"k":380,"v":2.7,"s":"XOM"},{"k":390,"v":2.68,"s":"XOM"},{"k":400,"v":2.67,"s":"XOM"},{"k":412,"v":2.65,"s":"XOM"},{"k":420,"v":2.64,"s":"XOM"},{"k":430,"v":2.61,"s":"XOM"},{"k":440,"v":2.59,"s":"XOM"},{"k":452,"v":2.57,"s":"XOM"},{"k":460,"v":2.55,"s":"XOM"},{"k":470,"v":2.52,"s":"XOM"},{"k":480,"v":2.5,"s":"XOM"},{"k":490,"v":2.48,"s":"XOM"},{"k":500,"v":2.45,"s":"XOM"},{"k":510,"v":2.43,"s":"XOM"},{"k":520,"v":2.4,"s":"XOM"},
{"k":0,"v":6,"s":"MSFT"},{"k":1,"v":5.5,"s":"MSFT"},{"k":2,"v":6,"s":"MSFT"},{"k":3,"v":5.0,"s":"MSFT"},{"k":4,"v":3.2,"s":"MSFT"},{"k":5,"v":2.8,"s":"MSFT"},{"k":6,"v":2.7,"s":"MSFT"},{"k":7,"v":5.2,"s":"MSFT"},{"k":8,"v":3.2,"s":"MSFT"},{"k":9,"v":3.3,"s":"MSFT"},{"k":10,"v":3.4,"s":"MSFT"},{"k":11,"v":3.8,"s":"MSFT"},{"k":12,"v":4.0,"s":"MSFT"},{"k":13,"v":3.6,"s":"MSFT"},{"k":14,"v":3.5,"s":"MSFT"},{"k":15,"v":3.7,"s":"MSFT"},{"k":17,"v":3.8,"s":"MSFT"},{"k":19,"v":3.9,"s":"MSFT"},{"k":21,"v":4.0,"s":"MSFT"},{"k":23,"v":4.05,"s":"MSFT"},{"k":25,"v":4.0,"s":"MSFT"},{"k":27,"v":4.1,"s":"MSFT"},{"k":29,"v":4.2,"s":"MSFT"},{"k":31,"v":4.15,"s":"MSFT"},{"k":33,"v":4.1,"s":"MSFT"},{"k":35,"v":4.15,"s":"MSFT"},{"k":37,"v":4.25,"s":"MSFT"},{"k":39,"v":4.3,"s":"MSFT"},{"k":41,"v":4.25,"s":"MSFT"},{"k":43,"v":4.3,"s":"MSFT"},{"k":45,"v":4.25,"s":"MSFT"},{"k":47,"v":4.35,"s":"MSFT"},{"k":49,"v":4.0,"s":"MSFT"},{"k":51,"v":3.75,"s":"MSFT"},{"k":53,"v":3.55,"s":"MSFT"},{"k":56,"v":3.6,"s":"MSFT"},{"k":59,"v":3.58,"s":"MSFT"},{"k":62,"v":3.65,"s":"MSFT"},{"k":65,"v":3.62,"s":"MSFT"},{"k":68,"v":3.58,"s":"MSFT"},{"k":71,"v":3.48,"s":"MSFT"},{"k":74,"v":3.3,"s":"MSFT"},{"k":77,"v":3.2,"s":"MSFT"},{"k":80,"v":3.12,"s":"MSFT"},{"k":85,"v":3.15,"s":"MSFT"},{"k":90,"v":3.2,"s":"MSFT"},{"k":95,"v":3.18,"s":"MSFT"},{"k":100,"v":3.15,"s":"MSFT"},{"k":105,"v":3.1,"s":"MSFT"},{"k":110,"v":3.05,"s":"MSFT"},{"k":115,"v":3.02,"s":"MSFT"},{"k":120,"v":2.97,"s":"MSFT"},{"k":125,"v":3.0,"s":"MSFT"},{"k":130,"v":3.0,"s":"MSFT"},{"k":135,"v":2.95,"s":"MSFT"},{"k":140,"v":2.88,"s":"MSFT"},{"k":145,"v":2.87,"s":"MSFT"},{"k":150,"v":2.86,"s":"MSFT"},{"k":160,"v":2.87,"s":"MSFT"},{"k":170,"v":2.87,"s":"MSFT"},{"k":180,"v":2.88,"s":"MSFT"},{"k":190,"v":2.9,"s":"MSFT"},{"k":195,"v":2.92,"s":"MSFT"},{"k":200,"v":2.8,"s":"MSFT"},{"k":210,"v":2.79,"s":"MSFT"},{"k":220,"v":2.81,"s":"MSFT"},{"k":230,"v":2.8,"s":"MSFT"},{"k":240,"v":2.78,"s":"MSFT"},{"k":252,"v":2.75,"s":"MSFT"},{"k":260,"v":2.74,"s":"MSFT"},{"k":270,"v":2.77,"s":"MSFT"},{"k":280,"v":2.79,"s":"MSFT"},{"k":290,"v":2.8,"s":"MSFT"},{"k":300,"v":2.79,"s":"MSFT"},{"k":310,"v":2.8,"s":"MSFT"},{"k":320,"v":2.82,"s":"MSFT"},{"k":332,"v":2.85,"s":"MSFT"},{"k":340,"v":2.86,"s":"MSFT"},{"k":350,"v":2.86,"s":"MSFT"},{"k":360,"v":2.82,"s":"MSFT"},{"k":372,"v":2.77,"s":"MSFT"},{"k":380,"v":2.75,"s":"MSFT"},{"k":390,"v":2.72,"s":"MSFT"},{"k":400,"v":2.7,"s":"MSFT"},{"k":410,"v":2.67,"s":"MSFT"},{"k":420,"v":2.64,"s":"MSFT"},{"k":430,"v":2.61,"s":"MSFT"},{"k":440,"v":2.59,"s":"MSFT"},{"k":450,"v":2.57,"s":"MSFT"},{"k":460,"v":2.55,"s":"MSFT"},{"k":472,"v":2.52,"s":"MSFT"},{"k":480,"v":2.5,"s":"MSFT"},{"k":490,"v":2.47,"s":"MSFT"},{"k":500,"v":2.45,"s":"MSFT"},{"k":510,"v":2.42,"s":"MSFT"},{"k":520,"v":2.39,"s":"MSFT"},
{"k":0,"v":3.2,"s":"ATT"},{"k":1,"v":4.5,"s":"ATT"},{"k":2,"v":6,"s":"ATT"},{"k":3,"v":4.0,"s":"ATT"},{"k":4,"v":3.5,"s":"ATT"},{"k":5,"v":4.5,"s":"ATT"},{"k":6,"v":6,"s":"ATT"},{"k":7,"v":4.2,"s":"ATT"},{"k":8,"v":3.5,"s":"ATT"},{"k":9,"v":4.5,"s":"ATT"},{"k":10,"v":6,"s":"ATT"},{"k":12,"v":5.2,"s":"ATT"},{"k":13,"v":4.5,"s":"ATT"},{"k":14,"v":5.0,"s":"ATT"},{"k":15,"v":4.8,"s":"ATT"},{"k":16,"v":3.5,"s":"ATT"},{"k":17,"v":3.5,"s":"ATT"},{"k":19,"v":3.6,"s":"ATT"},{"k":21,"v":3.75,"s":"ATT"},{"k":23,"v":3.83,"s":"ATT"},{"k":25,"v":3.95,"s":"ATT"},{"k":27,"v":4.07,"s":"ATT"},{"k":29,"v":4.2,"s":"ATT"},{"k":31,"v":4.35,"s":"ATT"},{"k":33,"v":4.45,"s":"ATT"},{"k":35,"v":4.5,"s":"ATT"},{"k":37,"v":4.65,"s":"ATT"},{"k":39,"v":4.83,"s":"ATT"},{"k":41,"v":4.95,"s":"ATT"},{"k":43,"v":5.1,"s":"ATT"},{"k":46,"v":5.2,"s":"ATT"},{"k":48,"v":4.9,"s":"ATT"},{"k":49,"v":4.6,"s":"ATT"},{"k":51,"v":4.4,"s":"ATT"},{"k":53,"v":4.28,"s":"ATT"},{"k":56,"v":4.32,"s":"ATT"},{"k":59,"v":4.33,"s":"ATT"},{"k":62,"v":4.42,"s":"ATT"},{"k":65,"v":4.45,"s":"ATT"},{"k":69,"v":4.5,"s":"ATT"},{"k":71,"v":4.2,"s":"ATT"},{"k":73,"v":4.2,"s":"ATT"},{"k":76,"v":4.18,"s":"ATT"},{"k":80,"v":4.15,"s":"ATT"},{"k":84,"v":4.05,"s":"ATT"},{"k":88,"v":3.95,"s":"ATT"},{"k":91,"v":3.88,"s":"ATT"},{"k":95,"v":3.97,"s":"ATT"},{"k":100,"v":4.03,"s":"ATT"},{"k":105,"v":4.0,"s":"ATT"},{"k":110,"v":4.02,"s":"ATT"},{"k":115,"v":3.9,"s":"ATT"},{"k":120,"v":3.82,"s":"ATT"},{"k":125,"v":3.85,"s":"ATT"},{"k":130,"v":3.75,"s":"ATT"},{"k":135,"v":3.77,"s":"ATT"},{"k":140,"v":3.76,"s":"ATT"},{"k":145,"v":3.76,"s":"ATT"},{"k":147,"v":3.55,"s":"ATT"},{"k":150,"v":3.52,"s":"ATT"},{"k":155,"v":3.48,"s":"ATT"},{"k":160,"v":3.44,"s":"ATT"},{"k":165,"v":3.38,"s":"ATT"},{"k":170,"v":3.33,"s":"ATT"},{"k":175,"v":3.36,"s":"ATT"},{"k":180,"v":3.38,"s":"ATT"},{"k":185,"v":3.35,"s":"ATT"},{"k":190,"v":3.35,"s":"ATT"},{"k":195,"v":3.3,"s":"ATT"},{"k":200,"v":3.25,"s":"ATT"},{"k":205,"v":3.2,"s":"ATT"},{"k":210,"v":3.15,"s":"ATT"},{"k":216,"v":3.09,"s":"ATT"},{"k":220,"v":3.08,"s":"ATT"},{"k":230,"v":3.04,"s":"ATT"},{"k":240,"v":3.04,"s":"ATT"},{"k":252,"v":3.01,"s":"ATT"},{"k":260,"v":3.02,"s":"ATT"},{"k":270,"v":3.03,"s":"ATT"},{"k":280,"v":3.04,"s":"ATT"},{"k":292,"v":2.96,"s":"ATT"},{"k":300,"v":2.93,"s":"ATT"},{"k":310,"v":2.9,"s":"ATT"},{"k":320,"v":2.86,"s":"ATT"},{"k":330,"v":2.8,"s":"ATT"},{"k":340,"v":2.72,"s":"ATT"},{"k":350,"v":2.69,"s":"ATT"},{"k":360,"v":2.66,"s":"ATT"},{"k":372,"v":2.6,"s":"ATT"},{"k":380,"v":2.56,"s":"ATT"},{"k":390,"v":2.52,"s":"ATT"},{"k":400,"v":2.49,"s":"ATT"},{"k":410,"v":2.44,"s":"ATT"},{"k":420,"v":2.39,"s":"ATT"},{"k":430,"v":2.38,"s":"ATT"},{"k":440,"v":2.37,"s":"ATT"},{"k":450,"v":2.37,"s":"ATT"},{"k":460,"v":2.35,"s":"ATT"},{"k":472,"v":2.31,"s":"ATT"},{"k":480,"v":2.29,"s":"ATT"},{"k":490,"v":2.27,"s":"ATT"},{"k":500,"v":2.25,"s":"ATT"},{"k":510,"v":2.24,"s":"ATT"},{"k":520,"v":2.23,"s":"ATT"}
],
"p4": [
{"k":0,"v":4.4,"s":"HOG"},{"k":1,"v":4.8,"s":"HOG"},{"k":2,"v":4.62,"s":"HOG"},{"k":3,"v":4.5,"s":"HOG"},{"k":4,"v":4.3,"s":"HOG"},{"k":5,"v":4.4,"s":"HOG"},{"k":6,"v":4.42,"s":"HOG"},{"k":7,"v":4.38,"s":"HOG"},{"k":8,"v":4.4,"s":"HOG"},{"k":9,"v":4.2,"s":"HOG"},{"k":10,"v":4.1,"s":"HOG"},{"k":11,"v":3.7,"s":"HOG"},{"k":12,"v":3.3,"s":"HOG"},{"k":13,"v":3.1,"s":"HOG"},{"k":14,"v":3.0,"s":"HOG"},{"k":15,"v":2.95,"s":"HOG"},{"k":16,"v":2.9,"s":"HOG"},{"k":17,"v":3.05,"s":"HOG"},{"k":18,"v":3.15,"s":"HOG"},{"k":20,"v":3.2,"s":"HOG"},{"k":22,"v":3.18,"s":"HOG"},{"k":25,"v":3.15,"s":"HOG"},{"k":28,"v":3.1,"s":"HOG"},{"k":31,"v":3.05,"s":"HOG"},{"k":34,"v":3.07,"s":"HOG"},{"k":37,"v":3.05,"s":"HOG"},{"k":40,"v":3.0,"s":"HOG"},{"k":43,"v":2.9,"s":"HOG"},{"k":46,"v":2.85,"s":"HOG"},{"k":49,"v":2.78,"s":"HOG"},{"k":52,"v":2.75,"s":"HOG"},{"k":55,"v":2.8,"s":"HOG"},{"k":58,"v":2.82,"s":"HOG"},{"k":62,"v":2.83,"s":"HOG"},{"k":66,"v":2.85,"s":"HOG"},{"k":70,"v":2.87,"s":"HOG"},{"k":75,"v":2.9,"s":"HOG"},{"k":80,"v":2.95,"s":"HOG"},{"k":85,"v":2.93,"s":"HOG"},{"k":90,"v":2.92,"s":"HOG"},{"k":95,"v":2.9,"s":"HOG"},{"k":100,"v":2.9,"s":"HOG"},{"k":105,"v":2.93,"s":"HOG"},{"k":110,"v":2.95,"s":"HOG"},{"k":115,"v":2.93,"s":"HOG"},{"k":120,"v":2.91,"s":"HOG"},{"k":125,"v":2.85,"s":"HOG"},{"k":130,"v":2.8,"s":"HOG"},{"k":135,"v":2.72,"s":"HOG"},{"k":140,"v":2.68,"s":"HOG"},{"k":145,"v":2.66,"s":"HOG"},{"k":150,"v":2.65,"s":"HOG"},{"k":160,"v":2.63,"s":"HOG"},{"k":170,"v":2.6,"s":"HOG"},{"k":180,"v":2.57,"s":"HOG"},{"k":190,"v":2.53,"s":"HOG"},{"k":200,"v":2.5,"s":"HOG"},{"k":210,"v":2.47,"s":"HOG"},{"k":220,"v":2.43,"s":"HOG"},{"k":230,"v":2.4,"s":"HOG"},{"k":243,"v":2.36,"s":"HOG"},{"k":250,"v":2.35,"s":"HOG"},{"k":260,"v":2.35,"s":"HOG"},{"k":270,"v":2.37,"s":"HOG"},{"k":280,"v":2.36,"s":"HOG"},{"k":290,"v":2.34,"s":"HOG"},{"k":300,"v":2.35,"s":"HOG"},{"k":310,"v":2.34,"s":"HOG"},{"k":327,"v":2.32,"s":"HOG"},{"k":340,"v":2.31,"s":"HOG"},{"k":350,"v":2.3,"s":"HOG"},{"k":360,"v":2.3,"s":"HOG"},{"k":375,"v":2.27,"s":"HOG"},{"k":390,"v":2.25,"s":"HOG"},{"k":400,"v":2.24,"s":"HOG"},{"k":410,"v":2.22,"s":"HOG"},{"k":420,"v":2.2,"s":"HOG"},{"k":435,"v":2.17,"s":"HOG"},{"k":450,"v":2.15,"s":"HOG"},{"k":460,"v":2.14,"s":"HOG"},{"k":475,"v":2.12,"s":"HOG"},{"k":490,"v":2.09,"s":"HOG"},{"k":500,"v":2.07,"s":"HOG"},{"k":510,"v":2.04,"s":"HOG"},{"k":520,"v":2.02,"s":"HOG"},
{"k":0,"v":2.3,"s":"DOW"},{"k":1,"v":2.9,"s":"DOW"},{"k":2,"v":3.5,"s":"DOW"},{"k":3,"v":4.5,"s":"DOW"},{"k":4,"v":5.2,"s":"DOW"},{"k":5,"v":4.0,"s":"DOW"},{"k":6,"v":4.1,"s":"DOW"},{"k":7,"v":4.2,"s":"DOW"},{"k":8,"v":4.0,"s":"DOW"},{"k":9,"v":3.7,"s":"DOW"},{"k":10,"v":3.6,"s":"DOW"},{"k":11,"v":3.9,"s":"DOW"},{"k":12,"v":4.1,"s":"DOW"},{"k":13,"v":4.2,"s":"DOW"},{"k":14,"v":4.25,"s":"DOW"},{"k":15,"v":4.35,"s":"DOW"},{"k":16,"v":4.4,"s":"DOW"},{"k":17,"v":4.3,"s":"DOW"},{"k":18,"v":4.1,"s":"DOW"},{"k":20,"v":3.95,"s":"DOW"},{"k":22,"v":3.8,"s":"DOW"},{"k":24,"v":3.6,"s":"DOW"},{"k":26,"v":3.7,"s":"DOW"},{"k":28,"v":3.8,"s":"DOW"},{"k":30,"v":3.85,"s":"DOW"},{"k":32,"v":3.95,"s":"DOW"},{"k":33,"v":3.6,"s":"DOW"},{"k":35,"v":3.45,"s":"DOW"},{"k":37,"v":3.3,"s":"DOW"},{"k":39,"v":3.2,"s":"DOW"},{"k":41,"v":3.3,"s":"DOW"},{"k":43,"v":3.4,"s":"DOW"},{"k":45,"v":3.2,"s":"DOW"},{"k":47,"v":3.05,"s":"DOW"},{"k":50,"v":2.96,"s":"DOW"},{"k":53,"v":3.0,"s":"DOW"},{"k":56,"v":3.1,"s":"DOW"},{"k":59,"v":3.15,"s":"DOW"},{"k":62,"v":3.1,"s":"DOW"},{"k":65,"v":3.0,"s":"DOW"},{"k":68,"v":3.05,"s":"DOW"},{"k":71,"v":3.1,"s":"DOW"},{"k":74,"v":3.05,"s":"DOW"},{"k":77,"v":3.0,"s":"DOW"},{"k":80,"v":2.95,"s":"DOW"},{"k":83,"v":3.0,"s":"DOW"},{"k":86,"v":3.05,"s":"DOW"},{"k":89,"v":3.07,"s":"DOW"},{"k":92,"v":3.05,"s":"DOW"},{"k":95,"v":3.0,"s":"DOW"},{"k":98,"v":2.9,"s":"DOW"},{"k":101,"v":2.85,"s":"DOW"},{"k":105,"v":2.82,"s":"DOW"},{"k":110,"v":2.77,"s":"DOW"},{"k":115,"v":2.82,"s":"DOW"},{"k":118,"v":2.88,"s":"DOW"},{"k":121,"v":2.8,"s":"DOW"},{"k":124,"v":2.72,"s":"DOW"},{"k":127,"v":2.78,"s":"DOW"},{"k":130,"v":2.82,"s":"DOW"},{"k":135,"v":2.77,"s":"DOW"},{"k":140,"v":2.75,"s":"DOW"},{"k":145,"v":2.72,"s":"DOW"},{"k":150,"v":2.73,"s":"DOW"},{"k":160,"v":2.71,"s":"DOW"},{"k":170,"v":2.71,"s":"DOW"},{"k":180,"v":2.73,"s":"DOW"},{"k":190,"v":2.7,"s":"DOW"},{"k":200,"v":2.69,"s":"DOW"},{"k":207,"v":2.66,"s":"DOW"},{"k":215,"v":2.6,"s":"DOW"},{"k":223,"v":2.53,"s":"DOW"},{"k":230,"v":2.53,"s":"DOW"},{"k":240,"v":2.55,"s":"DOW"},{"k":255,"v":2.56,"s":"DOW"},{"k":265,"v":2.55,"s":"DOW"},{"k":275,"v":2.57,"s":"DOW"},{"k":283,"v":2.58,"s":"DOW"},{"k":290,"v":2.55,"s":"DOW"},{"k":299,"v":2.47,"s":"DOW"},{"k":310,"v":2.45,"s":"DOW"},{"k":323,"v":2.45,"s":"DOW"},{"k":330,"v":2.42,"s":"DOW"},{"k":337,"v":2.37,"s":"DOW"},{"k":345,"v":2.36,"s":"DOW"},{"k":351,"v":2.35,"s":"DOW"},{"k":360,"v":2.32,"s":"DOW"},{"k":368,"v":2.28,"s":"DOW"},{"k":375,"v":2.24,"s":"DOW"},{"k":385,"v":2.22,"s":"DOW"},{"k":395,"v":2.2,"s":"DOW"},{"k":403,"v":2.2,"s":"DOW"},{"k":415,"v":2.21,"s":"DOW"},{"k":425,"v":2.22,"s":"DOW"},{"k":435,"v":2.22,"s":"DOW"},{"k":450,"v":2.21,"s":"DOW"},{"k":467,"v":2.22,"s":"DOW"},{"k":480,"v":2.19,"s":"DOW"},{"k":487,"v":2.17,"s":"DOW"},{"k":500,"v":2.15,"s":"DOW"},{"k":511,"v":2.14,"s":"DOW"},{"k":520,"v":2.13,"s":"DOW"},
{"k":0,"v":3.0,"s":"KMB"},{"k":1,"v":5.5,"s":"KMB"},{"k":2,"v":6,"s":"KMB"},{"k":3,"v":6,"s":"KMB"},{"k":4,"v":5.2,"s":"KMB"},{"k":5,"v":4.5,"s":"KMB"},{"k":6,"v":4.2,"s":"KMB"},{"k":7,"v":3.9,"s":"KMB"},{"k":8,"v":3.8,"s":"KMB"},{"k":9,"v":3.6,"s":"KMB"},{"k":10,"v":3.5,"s":"KMB"},{"k":11,"v":3.4,"s":"KMB"},{"k":12,"v":3.45,"s":"KMB"},{"k":13,"v":3.7,"s":"KMB"},{"k":14,"v":4.0,"s":"KMB"},{"k":15,"v":4.3,"s":"KMB"},{"k":16,"v":4.6,"s":"KMB"},{"k":17,"v":4.75,"s":"KMB"},{"k":18,"v":4.4,"s":"KMB"},{"k":19,"v":4.1,"s":"KMB"},{"k":20,"v":4.0,"s":"KMB"},{"k":22,"v":3.75,"s":"KMB"},{"k":24,"v":3.6,"s":"KMB"},{"k":26,"v":3.45,"s":"KMB"},{"k":28,"v":3.3,"s":"KMB"},{"k":30,"v":2.95,"s":"KMB"},{"k":32,"v":3.05,"s":"KMB"},{"k":34,"v":3.0,"s":"KMB"},{"k":36,"v":2.9,"s":"KMB"},{"k":38,"v":2.95,"s":"KMB"},{"k":40,"v":2.9,"s":"KMB"},{"k":42,"v":2.62,"s":"KMB"},{"k":44,"v":2.65,"s":"KMB"},{"k":47,"v":2.6,"s":"KMB"},{"k":50,"v":2.55,"s":"KMB"},{"k":53,"v":2.52,"s":"KMB"},{"k":56,"v":2.55,"s":"KMB"},{"k":60,"v":2.55,"s":"KMB"},{"k":63,"v":2.62,"s":"KMB"},{"k":66,"v":2.72,"s":"KMB"},{"k":69,"v":2.85,"s":"KMB"},{"k":72,"v":2.95,"s":"KMB"},{"k":75,"v":3.0,"s":"KMB"},{"k":78,"v":3.02,"s":"KMB"},{"k":81,"v":3.05,"s":"KMB"},{"k":84,"v":2.98,"s":"KMB"},{"k":87,"v":2.95,"s":"KMB"},{"k":90,"v":3.0,"s":"KMB"},{"k":93,"v":2.95,"s":"KMB"},{"k":96,"v":2.9,"s":"KMB"},{"k":100,"v":2.87,"s":"KMB"},{"k":105,"v":2.88,"s":"KMB"},{"k":110,"v":2.9,"s":"KMB"},{"k":115,"v":2.85,"s":"KMB"},{"k":120,"v":2.97,"s":"KMB"},{"k":125,"v":3.05,"s":"KMB"},{"k":130,"v":3.02,"s":"KMB"},{"k":133,"v":2.92,"s":"KMB"},{"k":136,"v":2.85,"s":"KMB"},{"k":140,"v":2.88,"s":"KMB"},{"k":145,"v":2.9,"s":"KMB"},{"k":150,"v":2.92,"s":"KMB"},{"k":155,"v":2.9,"s":"KMB"},{"k":160,"v":2.87,"s":"KMB"},{"k":165,"v":2.8,"s":"KMB"},{"k":170,"v":2.76,"s":"KMB"},{"k":175,"v":2.74,"s":"KMB"},{"k":180,"v":2.72,"s":"KMB"},{"k":190,"v":2.7,"s":"KMB"},{"k":195,"v":2.68,"s":"KMB"},{"k":200,"v":2.68,"s":"KMB"},{"k":211,"v":2.72,"s":"KMB"},{"k":220,"v":2.67,"s":"KMB"},{"k":235,"v":2.6,"s":"KMB"},{"k":245,"v":2.61,"s":"KMB"},{"k":255,"v":2.63,"s":"KMB"},{"k":267,"v":2.64,"s":"KMB"},{"k":280,"v":2.66,"s":"KMB"},{"k":290,"v":2.69,"s":"KMB"},{"k":299,"v":2.69,"s":"KMB"},{"k":310,"v":2.62,"s":"KMB"},{"k":320,"v":2.58,"s":"KMB"},{"k":335,"v":2.53,"s":"KMB"},{"k":345,"v":2.52,"s":"KMB"},{"k":355,"v":2.54,"s":"KMB"},{"k":367,"v":2.53,"s":"KMB"},{"k":380,"v":2.48,"s":"KMB"},{"k":395,"v":2.44,"s":"KMB"},{"k":405,"v":2.43,"s":"KMB"},{"k":415,"v":2.42,"s":"KMB"},{"k":425,"v":2.42,"s":"KMB"},{"k":435,"v":2.41,"s":"KMB"},{"k":445,"v":2.39,"s":"KMB"},{"k":455,"v":2.37,"s":"KMB"},{"k":465,"v":2.35,"s":"KMB"},{"k":475,"v":2.33,"s":"KMB"},{"k":485,"v":2.31,"s":"KMB"},{"k":495,"v":2.3,"s":"KMB"},{"k":505,"v":2.29,"s":"KMB"},{"k":512,"v":2.27,"s":"KMB"},{"k":520,"v":2.28,"s":"KMB"},
{"k":0,"v":3.0,"s":"MGM"},{"k":1,"v":4.5,"s":"MGM"},{"k":2,"v":6,"s":"MGM"},{"k":3,"v":6,"s":"MGM"},{"k":4,"v":5.5,"s":"MGM"},{"k":5,"v":4.6,"s":"MGM"},{"k":6,"v":4.0,"s":"MGM"},{"k":7,"v":3.6,"s":"MGM"},{"k":8,"v":3.3,"s":"MGM"},{"k":9,"v":3.5,"s":"MGM"},{"k":10,"v":3.2,"s":"MGM"},{"k":11,"v":3.0,"s":"MGM"},{"k":12,"v":2.93,"s":"MGM"},{"k":13,"v":3.2,"s":"MGM"},{"k":14,"v":3.4,"s":"MGM"},{"k":15,"v":3.6,"s":"MGM"},{"k":16,"v":3.8,"s":"MGM"},{"k":17,"v":3.7,"s":"MGM"},{"k":18,"v":3.9,"s":"MGM"},{"k":19,"v":4.1,"s":"MGM"},{"k":20,"v":4.21,"s":"MGM"},{"k":21,"v":4.0,"s":"MGM"},{"k":22,"v":3.85,"s":"MGM"},{"k":24,"v":3.7,"s":"MGM"},{"k":26,"v":3.55,"s":"MGM"},{"k":28,"v":3.4,"s":"MGM"},{"k":30,"v":3.3,"s":"MGM"},{"k":32,"v":3.2,"s":"MGM"},{"k":34,"v":3.12,"s":"MGM"},{"k":36,"v":3.3,"s":"MGM"},{"k":38,"v":3.25,"s":"MGM"},{"k":40,"v":3.2,"s":"MGM"},{"k":42,"v":3.15,"s":"MGM"},{"k":44,"v":3.05,"s":"MGM"},{"k":46,"v":2.95,"s":"MGM"},{"k":48,"v":2.8,"s":"MGM"},{"k":50,"v":2.7,"s":"MGM"},{"k":52,"v":2.6,"s":"MGM"},{"k":54,"v":2.5,"s":"MGM"},{"k":56,"v":2.52,"s":"MGM"},{"k":58,"v":2.56,"s":"MGM"},{"k":60,"v":2.58,"s":"MGM"},{"k":63,"v":2.55,"s":"MGM"},{"k":66,"v":2.53,"s":"MGM"},{"k":69,"v":2.5,"s":"MGM"},{"k":72,"v":2.52,"s":"MGM"},{"k":75,"v":2.45,"s":"MGM"},{"k":78,"v":2.47,"s":"MGM"},{"k":81,"v":2.44,"s":"MGM"},{"k":84,"v":2.42,"s":"MGM"},{"k":87,"v":2.35,"s":"MGM"},{"k":90,"v":2.3,"s":"MGM"},{"k":95,"v":2.28,"s":"MGM"},{"k":100,"v":2.26,"s":"MGM"},{"k":105,"v":2.27,"s":"MGM"},{"k":110,"v":2.29,"s":"MGM"},{"k":115,"v":2.27,"s":"MGM"},{"k":120,"v":2.28,"s":"MGM"},{"k":125,"v":2.3,"s":"MGM"},{"k":130,"v":2.36,"s":"MGM"},{"k":135,"v":2.4,"s":"MGM"},{"k":140,"v":2.33,"s":"MGM"},{"k":145,"v":2.22,"s":"MGM"},{"k":150,"v":2.19,"s":"MGM"},{"k":155,"v":2.18,"s":"MGM"},{"k":160,"v":2.21,"s":"MGM"},{"k":165,"v":2.2,"s":"MGM"},{"k":170,"v":2.22,"s":"MGM"},{"k":180,"v":2.2,"s":"MGM"},{"k":190,"v":2.18,"s":"MGM"},{"k":195,"v":2.14,"s":"MGM"},{"k":200,"v":2.11,"s":"MGM"},{"k":210,"v":2.11,"s":"MGM"},{"k":220,"v":2.11,"s":"MGM"},{"k":230,"v":2.11,"s":"MGM"},{"k":243,"v":2.12,"s":"MGM"},{"k":255,"v":2.12,"s":"MGM"},{"k":265,"v":2.09,"s":"MGM"},{"k":275,"v":2.03,"s":"MGM"},{"k":285,"v":2.02,"s":"MGM"},{"k":300,"v":2.03,"s":"MGM"},{"k":310,"v":2.0,"s":"MGM"},{"k":327,"v":1.98,"s":"MGM"},{"k":340,"v":1.96,"s":"MGM"},{"k":350,"v":1.97,"s":"MGM"},{"k":360,"v":1.97,"s":"MGM"},{"k":375,"v":1.96,"s":"MGM"},{"k":395,"v":1.96,"s":"MGM"},{"k":410,"v":1.95,"s":"MGM"},{"k":420,"v":1.93,"s":"MGM"},{"k":430,"v":1.91,"s":"MGM"},{"k":443,"v":1.88,"s":"MGM"},{"k":455,"v":1.88,"s":"MGM"},{"k":465,"v":1.89,"s":"MGM"},{"k":480,"v":1.9,"s":"MGM"},{"k":495,"v":1.94,"s":"MGM"},{"k":505,"v":1.93,"s":"MGM"},{"k":520,"v":1.92,"s":"MGM"}
]
},
"spacing": 28,
"resolve": {"scale": {"color": "independent", "strokeDash": "independent", "x": "independent", "y": "independent"}, "legend": {"color": "independent", "strokeDash": "independent"}},
"vconcat": [
 {"spacing": 68,
  "resolve": {"scale": {"color": "independent", "strokeDash": "independent", "x": "independent", "y": "independent"}, "legend": {"color": "independent", "strokeDash": "independent"}},
  "hconcat": [
  {"title": "Hill plot: Student 3", "width": 433, "height": 306, "data": {"name": "p1"},
   "resolve": {"axis": {"x": "independent", "y": "independent"}},
   "layer": [
    {"mark": {"type": "line", "opacity": 0, "clip": true},
     "encoding": {
      "x": {"field": "k", "type": "quantitative", "scale": {"domain": [0, 522], "nice": false, "zero": false}, "axis": {"orient": "top", "values": [0,100,200,300,400,500], "labels": false, "title": null}},
      "y": {"field": "v", "type": "quantitative", "scale": {"domain": [0, 5], "nice": false}, "axis": {"orient": "right", "values": [0,1,2,3,4,5], "labels": false, "title": null}},
      "detail": {"field": "s"}}},
    {"mark": {"type": "line", "clip": true, "strokeWidth": 1.2},
     "encoding": {
      "x": {"field": "k", "type": "quantitative", "scale": {"domain": [0, 522], "nice": false, "zero": false}, "axis": {"orient": "bottom", "values": [0,100,200,300,400,500], "labelPadding": 20, "title": "# of order statistics", "titlePadding": 4}},
      "y": {"field": "v", "type": "quantitative", "scale": {"domain": [0, 5], "nice": false}, "axis": {"orient": "left", "values": [0,1,2,3,4,5], "labelPadding": 13, "title": "Tail index", "titlePadding": 14}},
      "color": {"field": "s", "type": "nominal", "scale": {"domain": ["a","b","c","d"], "range": ["#0000ff","#00ff00","#ff0000","#000000"]}, "legend": null},
      "strokeDash": {"field": "s", "type": "nominal", "scale": {"domain": ["a","b","c","d"], "range": [[1.3,2.9],[11,6],[10,3,2,3],[1,0]]}, "legend": null}}}
   ]},
  {"title": "Hill plot: Stable 1.7", "width": 433, "height": 306, "data": {"name": "p2"},
   "resolve": {"axis": {"x": "independent", "y": "independent"}},
   "layer": [
    {"mark": {"type": "line", "opacity": 0, "clip": true},
     "encoding": {
      "x": {"field": "k", "type": "quantitative", "scale": {"domain": [0, 522], "nice": false, "zero": false}, "axis": {"orient": "top", "values": [0,100,200,300,400,500], "labels": false, "title": null}},
      "y": {"field": "v", "type": "quantitative", "scale": {"domain": [0, 5], "nice": false}, "axis": {"orient": "right", "values": [0,1,2,3,4,5], "labels": false, "title": null}},
      "detail": {"field": "s"}}},
    {"mark": {"type": "line", "clip": true, "strokeWidth": 1.2},
     "encoding": {
      "x": {"field": "k", "type": "quantitative", "scale": {"domain": [0, 522], "nice": false, "zero": false}, "axis": {"orient": "bottom", "values": [0,100,200,300,400,500], "labelPadding": 20, "title": "# of order statistics", "titlePadding": 4}},
      "y": {"field": "v", "type": "quantitative", "scale": {"domain": [0, 5], "nice": false}, "axis": {"orient": "left", "values": [0,1,2,3,4,5], "labelPadding": 13, "title": "Tail index", "titlePadding": 14}},
      "color": {"field": "s", "type": "nominal", "scale": {"domain": ["a","b","c","d"], "range": ["#0000ff","#00ff00","#ff0000","#000000"]}, "legend": null},
      "strokeDash": {"field": "s", "type": "nominal", "scale": {"domain": ["a","b","c","d"], "range": [[1.3,2.9],[11,6],[10,3,2,3],[1,0]]}, "legend": null}}}
   ]}
 ]},
 {"spacing": 68,
  "resolve": {"scale": {"color": "independent", "strokeDash": "independent", "x": "independent", "y": "independent"}, "legend": {"color": "independent", "strokeDash": "independent"}},
  "hconcat": [
  {"title": "Hill plot: Equities", "width": 433, "height": 306, "data": {"name": "p3"},
   "resolve": {"axis": {"x": "independent", "y": "independent"}},
   "layer": [
    {"mark": {"type": "line", "opacity": 0, "clip": true},
     "encoding": {
      "x": {"field": "k", "type": "quantitative", "scale": {"domain": [0, 522], "nice": false, "zero": false}, "axis": {"orient": "top", "values": [0,100,200,300,400,500], "labels": false, "title": null}},
      "y": {"field": "v", "type": "quantitative", "scale": {"domain": [0, 5], "nice": false}, "axis": {"orient": "right", "values": [0,1,2,3,4,5], "labels": false, "title": null}},
      "detail": {"field": "s"}}},
    {"mark": {"type": "line", "clip": true, "strokeWidth": 1.2},
     "encoding": {
      "x": {"field": "k", "type": "quantitative", "scale": {"domain": [0, 522], "nice": false, "zero": false}, "axis": {"orient": "bottom", "values": [0,100,200,300,400,500], "labelPadding": 20, "title": "# of order statistics", "titlePadding": 4}},
      "y": {"field": "v", "type": "quantitative", "scale": {"domain": [0, 5], "nice": false}, "axis": {"orient": "left", "values": [0,1,2,3,4,5], "labelExpr": "datum.value == 0 ? '' : datum.label", "labelPadding": 13, "title": "Tail index", "titlePadding": 14}},
      "color": {"field": "s", "type": "nominal", "scale": {"domain": ["GCI","XOM","MSFT","ATT"], "range": ["#0000ff","#00ff00","#ff0000","#000000"]}, "legend": {"title": null}},
      "strokeDash": {"field": "s", "type": "nominal", "scale": {"domain": ["GCI","XOM","MSFT","ATT"], "range": [[1.3,2.9],[11,6],[10,3,2,3],[1,0]]}, "legend": {"title": null}}}}
   ]},
  {"title": "Hill plot: Equities", "width": 433, "height": 306, "data": {"name": "p4"},
   "resolve": {"axis": {"x": "independent", "y": "independent"}},
   "layer": [
    {"mark": {"type": "line", "opacity": 0, "clip": true},
     "encoding": {
      "x": {"field": "k", "type": "quantitative", "scale": {"domain": [0, 522], "nice": false, "zero": false}, "axis": {"orient": "top", "values": [0,100,200,300,400,500], "labels": false, "title": null}},
      "y": {"field": "v", "type": "quantitative", "scale": {"domain": [0, 5], "nice": false}, "axis": {"orient": "right", "values": [0,1,2,3,4,5], "labels": false, "title": null}},
      "detail": {"field": "s"}}},
    {"mark": {"type": "line", "clip": true, "strokeWidth": 1.2},
     "encoding": {
      "x": {"field": "k", "type": "quantitative", "scale": {"domain": [0, 522], "nice": false, "zero": false}, "axis": {"orient": "bottom", "values": [0,100,200,300,400,500], "labelPadding": 20, "title": "# of order statistics", "titlePadding": 4}},
      "y": {"field": "v", "type": "quantitative", "scale": {"domain": [0, 5], "nice": false}, "axis": {"orient": "left", "values": [0,1,2,3,4,5], "labelPadding": 13, "title": "Tail index", "titlePadding": 14}},
      "color": {"field": "s", "type": "nominal", "scale": {"domain": ["HOG","DOW","KMB","MGM"], "range": ["#0000ff","#00ff00","#ff0000","#000000"]}, "legend": {"title": null}},
      "strokeDash": {"field": "s", "type": "nominal", "scale": {"domain": ["HOG","DOW","KMB","MGM"], "range": [[1.3,2.9],[11,6],[10,3,2,3],[1,0]]}, "legend": {"title": null}}}}
   ]}
 ]}
]
}
